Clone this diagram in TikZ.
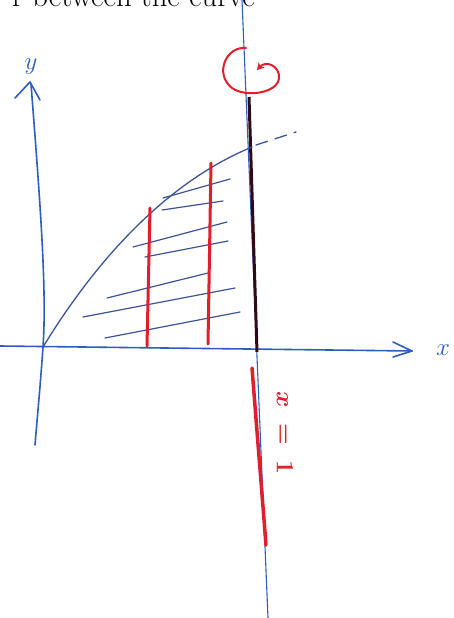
\documentclass[tikz,border=0pt]{standalone}
\usepackage{amsmath,amssymb}
\usepackage{xcolor}
\usetikzlibrary{arrows.meta,positioning,calc}

\definecolor{penblue}{RGB}{44,92,196}
\definecolor{hatchblue}{RGB}{58,84,150}
\definecolor{penred}{RGB}{226,30,44}
\definecolor{pendark}{RGB}{48,10,20}

\begin{document}
\begin{tikzpicture}[
  x=1pt,
  y=-1pt,
  axis/.style={draw=penblue,line width=1.6pt,line cap=round,line join=round},
  curve/.style={draw=hatchblue,line width=1.3pt,line cap=round},
  hatch/.style={draw=hatchblue,line width=1.2pt,line cap=round},
  strip/.style={draw=penred,line width=3pt,line cap=round},
  marker/.style={text=penred,font=\boldmath\fontsize{25}{29}\selectfont},
  axlabel/.style={text=penblue,font=\fontsize{24}{28}\selectfont,inner sep=0pt}
]
\useasboundingbox (0,0) rectangle (454,618);
\clip (0,0) rectangle (454,618);

% cut-off line of the printed text
\node[anchor=base east,inner sep=0pt,font=\fontsize{30.7}{36}\selectfont] (caption) at (255,7)
  {r between the curve};

% axes
\coordinate (O) at (43,347);
\draw[axis] (31,84) .. controls (40,200) and (47,290) .. (O)
  .. controls (40,390) and (37,420) .. (35,445);
\draw[axis] (15,98) -- (30,82) -- (40,100);
\draw[axis] (0,346) -- (412,351);
\draw[axis] (393,342) -- (412,351) -- (393,357);
\node[axlabel] (ylab) at (31,67) {$y$};
\node[axlabel] (xlab) at (443,350) {$x$};

% the line x = 1
\draw[draw=penblue,line width=1.1pt] (242,0) -- (268,618);
\draw[draw=pendark,line width=3pt] (249,97) -- (257,352);
\draw[strip,line width=3.5pt] (252,368) -- (266,545);
\node[marker,rotate=-90] (xone) at (285,433) {$x\;=\;1$};

% sense of rotation
\draw[draw=penred,line width=2pt,line cap=round,-{Stealth[length=7pt,width=8pt]}]
  (246,48) .. controls (226,46) and (214,74) .. (232,88)
  .. controls (246,98) and (278,93) .. (279,78)
  .. controls (280,66) and (266,60) .. (257,70);

% the curve and the shaded region
\draw[curve] (O) .. controls (90,270) and (160,185) .. (252,147);
\draw[curve,dash pattern=on 12pt off 8pt] (256,145) -- (296,132);
\foreach \xa/\ya/\xb/\yb in {163/198/230/179, 162/210/223/201, 133/247/227/222,
    145/257/228/241, 107/298/208/273, 83/317/235/288, 105/338/240/312}
  \draw[hatch] (\xa,\ya) -- (\xb,\yb);

% sample strips
\draw[strip] (150,208) -- (147,346);
\draw[strip] (211,163) -- (208,344);

\end{tikzpicture}
\end{document}
